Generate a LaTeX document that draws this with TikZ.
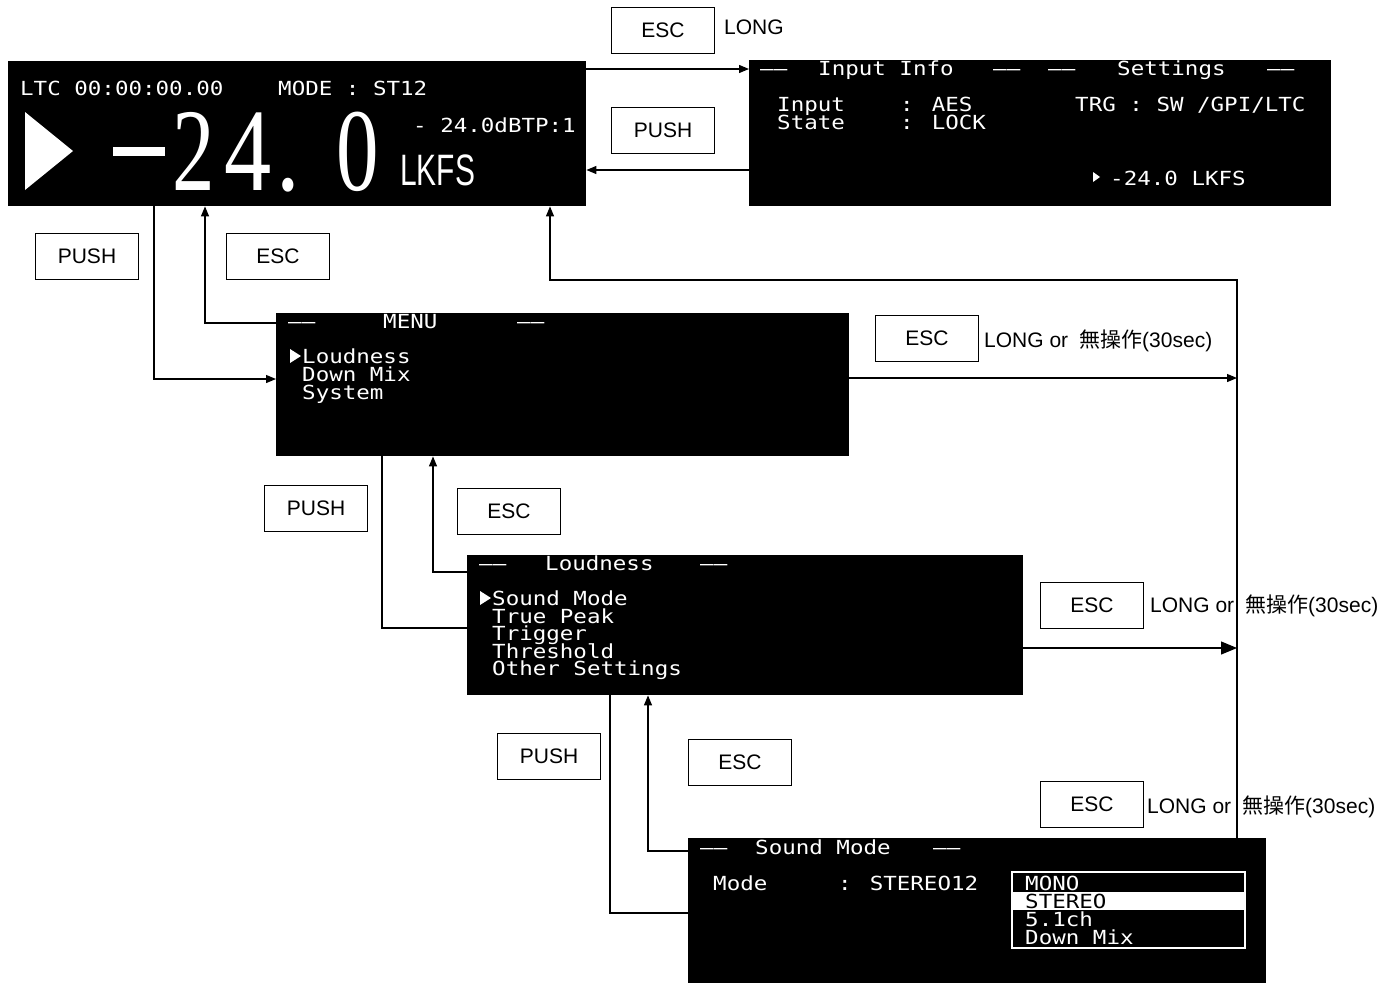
\documentclass[tikz,border=0pt]{standalone}
\usepackage{fontspec}
\setmainfont{Liberation Sans}
\newfontfamily\jp{Noto Sans CJK JP}
\newfontfamily\lcd[FakeStretch=1.16]{DejaVu Sans Mono}
\newfontfamily\bigserif{Liberation Serif}
\usetikzlibrary{arrows.meta}
\tikzset{
  screen/.style={fill=black, draw=none, inner sep=0pt, anchor=north west},
  btn/.style={draw=black, line width=1pt, fill=white, inner sep=0pt, anchor=north west,
    minimum width=103pt, minimum height=46pt, font=\fontsize{21}{21}\selectfont},
  lbl/.style={anchor=west, inner sep=0pt, font=\fontsize{21}{21}\selectfont},
  lcd/.style={text=white, inner sep=0pt, anchor=base west, font=\lcd\fontsize{19.4}{19.4}\selectfont},
  lcdblk/.style={lcd, text=black},
  conn/.style={line width=1.2pt},
  arr/.style={conn, -{Triangle[length=10pt,width=8pt]}},
  bigarr/.style={conn, -{Triangle[length=16pt,width=13pt]}},
  digit/.style={text=white, inner sep=0pt, anchor=base, font=\bigserif\fontsize{118}{118}\selectfont}
}
\newcommand\dd{––}
\newcommand\lng{LONG or\hspace{11pt}{\jp 無操作}(30sec)}
\begin{document}
\begin{tikzpicture}[x=1pt,y=-1pt]
\useasboundingbox (0,0) rectangle (1396,983);
\fill[white] (0,0) rectangle (1396,983);

% ---------- screens ----------
\node[screen, minimum width=578pt, minimum height=145pt] (main) at (8,61) {};
\node[screen, minimum width=582pt, minimum height=146pt] (info) at (749,60) {};
\node[screen, minimum width=573pt, minimum height=143pt] (menu) at (276,313) {};
\node[screen, minimum width=556pt, minimum height=140pt] (loud) at (467,555) {};
\node[screen, minimum width=578pt, minimum height=145pt] (sound) at (688,838) {};

% main screen content
\node[lcd] (m1) at (20,95) {LTC 00:00:00.00};
\node[lcd] (m2) at (278,95) {MODE : ST12};
\node[lcd] (m3) at (413,132) {- 24.0dBTP:1};
\fill[white] (25,112) -- (73,151) -- (25,190) -- cycle;
\fill[white] (113,147) rectangle (165,156);
\node[digit] (d2) at (194,190) {\scalebox{0.72}[1]{2}};
\node[digit] (d4) at (248,190) {\scalebox{0.8}[1]{4}};
\node[digit] (dp) at (288,190) {\scalebox{0.8}[1]{.}};
\node[digit] (d0) at (358,190) {\scalebox{0.72}[1]{0}};
\node[text=white, inner sep=0pt, anchor=base west, font=\fontsize{44}{44}\selectfont] (lkfs) at (400,185) {\scalebox{0.68}[1]{LKFS}};

% info screen content
\begin{scope}
\clip (info.north west) rectangle (info.south east);
\node[lcd] at (760,75) {\dd};
\node[lcd] at (818,75) {Input Info};
\node[lcd] at (993,75) {\dd};
\node[lcd] at (1048,75) {\dd};
\node[lcd] at (1117,75) {Settings};
\node[lcd] at (1267,75) {\dd};
\end{scope}
\node[lcd] at (777,111) {Input};
\node[lcd] at (777,129) {State};
\node[lcd] at (900,111) {: AES};
\node[lcd] at (900,129) {: LOCK};
\node[lcd] at (1075,111) {TRG : SW /GPI/LTC};
\fill[white] (1093,172) -- (1100,177) -- (1093,182) -- cycle;
\node[lcd] at (1110,185) {-24.0 LKFS};

% menu screen content
\begin{scope}
\clip (menu.north west) rectangle (menu.south east);
\node[lcd] at (288,328) {\dd};
\node[lcd] at (383,328) {MENU};
\node[lcd] at (517,328) {\dd};
\end{scope}
\fill[white] (290,349) -- (301,356) -- (290,363) -- cycle;
\node[lcd] at (302,363) {Loudness};
\node[lcd] at (302,381) {Down Mix};
\node[lcd] at (302,399) {System};

% loudness screen content
\begin{scope}
\clip (loud.north west) rectangle (loud.south east);
\node[lcd] at (479,570) {\dd};
\node[lcd] at (545,570) {Loudness};
\node[lcd] at (700,570) {\dd};
\end{scope}
\fill[white] (480,591) -- (491,598) -- (480,605) -- cycle;
\node[lcd] at (492,605) {Sound Mode};
\node[lcd] at (492,623) {True Peak};
\node[lcd] at (492,640) {Trigger};
\node[lcd] at (492,658) {Threshold};
\node[lcd] at (492,675) {Other Settings};

% sound mode screen content
\begin{scope}
\clip (sound.north west) rectangle (sound.south east);
\node[lcd] at (700,854) {\dd};
\node[lcd] at (755,854) {Sound Mode};
\node[lcd] at (933,854) {\dd};
\end{scope}
\node[lcd] at (713,890) {Mode};
\node[lcd] at (838,890) {: STEREO12};
\draw[white, line width=1.5pt] (1012,872) rectangle (1245,948);
\fill[white] (1012,892) rectangle (1245,910);
\node[lcd] at (1025,890) {MONO};
\node[lcdblk] at (1025,908) {STEREO};
\node[lcd] at (1025,926) {5.1ch};
\node[lcd] at (1025,944) {Down Mix};

% ---------- buttons and labels ----------
\node[btn] (b1) at (611,7) {ESC};
\node[lbl] (t1) at (724,27) {LONG};
\node[btn] (b2) at (611,107) {PUSH};
\node[btn] (b3) at (35,233) {PUSH};
\node[btn] (b4) at (226,233) {ESC};
\node[btn] (b5) at (875,315) {ESC};
\node[lbl] (t5) at (984,341) {\lng};
\node[btn] (b6) at (264,485) {PUSH};
\node[btn] (b7) at (457,488) {ESC};
\node[btn] (b8) at (1040,582) {ESC};
\node[lbl] (t8) at (1150,606) {\lng};
\node[btn] (b9) at (497,733) {PUSH};
\node[btn] (b10) at (688,739) {ESC};
\node[btn] (b11) at (1040,781) {ESC};
\node[lbl] (t11) at (1147,807) {\lng};

% ---------- connectors ----------
\coordinate (rail) at (1237,280);
\draw[arr] (main.east |- 0,69) -- (info.west |- 0,69);
\draw[arr] (info.west |- 0,170) -- (main.east |- 0,170);
\draw[arr] (154,0 |- main.south) |- (menu.west |- 0,379);
\draw[arr] (menu.west |- 0,323) -| (205,0 |- main.south);
\draw[arr] (menu.east |- 0,378) -- (rail |- 0,378);
\draw[conn] (382,0 |- menu.south) |- (loud.west |- 0,628);
\draw[arr] (loud.west |- 0,572) -| (433,0 |- menu.south);
\draw[bigarr] (loud.east |- 0,648) -- (rail |- 0,648);
\draw[conn] (610,0 |- loud.south) |- (sound.west |- 0,913);
\draw[arr] (sound.west |- 0,851) -| (648,0 |- loud.south);
\draw[arr] (rail |- sound.north) -- (rail) -| (550,0 |- main.south);
\end{tikzpicture}
\end{document}
